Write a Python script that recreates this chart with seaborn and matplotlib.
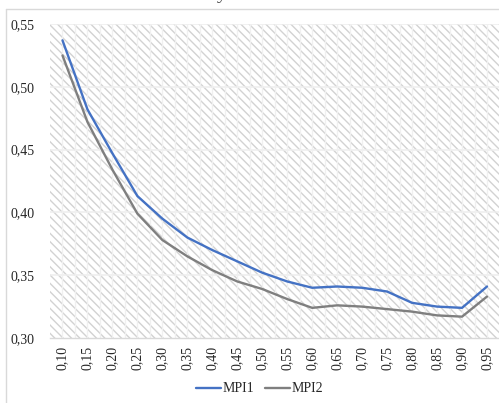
import matplotlib
matplotlib.use("Agg")
import matplotlib.pyplot as plt
from matplotlib.lines import Line2D
import seaborn as sns
import pandas as pd

# Threshold categories along the x axis
thresholds = ["0,10", "0,15", "0,20", "0,25", "0,30", "0,35", "0,40", "0,45", "0,50",
              "0,55", "0,60", "0,65", "0,70", "0,75", "0,80", "0,85", "0,90", "0,95"]

# Index values per threshold
mpi1 = [0.537, 0.482, 0.447, 0.413, 0.395, 0.380, 0.370, 0.361, 0.352,
        0.345, 0.340, 0.341, 0.340, 0.337, 0.328, 0.325, 0.324, 0.341]
mpi2 = [0.525, 0.472, 0.434, 0.399, 0.378, 0.365, 0.354, 0.345, 0.339,
        0.331, 0.324, 0.326, 0.325, 0.323, 0.321, 0.318, 0.317, 0.333]

series_names = ["MPI1", "MPI2"]
colors = ["#4472C4", "#7F7F7F"]
y_ticks = [0.30, 0.35, 0.40, 0.45, 0.50, 0.55]

df = pd.concat([
    pd.DataFrame({"threshold": thresholds, "value": mpi1, "series": series_names[0]}),
    pd.DataFrame({"threshold": thresholds, "value": mpi2, "series": series_names[1]}),
])

sns.set_theme(style="white")
plt.rcParams["font.family"] = ["Liberation Serif", "DejaVu Serif"]
plt.rcParams["hatch.color"] = "#d2d2d2"
plt.rcParams["hatch.linewidth"] = 1.0

fig = plt.figure(figsize=(4.99, 4.03), dpi=100)
ax = fig.add_axes([50 / 499, 65 / 403, 449.5 / 499, 314 / 403])

# hatched plot area
ax.patch.set_facecolor("white")
ax.patch.set_hatch("\\\\\\\\")
ax.patch.set_edgecolor("#d2d2d2")
ax.patch.set_linewidth(0)

sns.lineplot(data=df, x="threshold", y="value", hue="series", palette=colors,
             sort=False, linewidth=1.7, ax=ax, legend=False, zorder=3)

ax.set_xlim(-0.5, len(thresholds) - 0.5)
ax.set_ylim(0.30, 0.55)
ax.set_yticks(y_ticks)
ax.set_yticklabels([f"{v:.2f}".replace(".", ",") for v in y_ticks], fontsize=10)
ax.set_xticks(range(len(thresholds)))
ax.set_xticklabels(thresholds, rotation=90, fontsize=10)
ax.tick_params(axis="y", length=0, pad=11, colors="#262626")
ax.tick_params(axis="x", length=0, pad=6, colors="#262626")
ax.set_xlabel("")
ax.set_ylabel("")

# faint gridlines across the hatched area
for v in y_ticks[1:]:
    ax.axhline(v, color="#eeeeee", linewidth=1.1, zorder=1)
for k in range(len(thresholds)):
    ax.axvline(k, color="#f0f0f0", linewidth=1.0, zorder=1)
    ax.axvline(k + 0.5, color="#f0f0f0", linewidth=1.0, zorder=1)

for side in ["left", "right", "top"]:
    ax.spines[side].set_visible(False)
ax.spines["bottom"].set_color("#d9d9d9")
ax.spines["bottom"].set_linewidth(1.0)

# chart-area frame
fig.add_artist(Line2D([6 / 499, 6 / 499], [0, 1 - 9 / 403], transform=fig.transFigure,
                      color="#d9d9d9", linewidth=1.0))
fig.add_artist(Line2D([6 / 499, 1], [1 - 9 / 403, 1 - 9 / 403], transform=fig.transFigure,
                      color="#d9d9d9", linewidth=1.0))

# title line sitting above the frame
fig.text(222 / 499, 1 + 1 / 403, "y", fontsize=14, ha="center", va="baseline",
         color="#404040")

handles = [Line2D([], [], color=c, linewidth=1.7) for c in colors]
fig.legend(handles, series_names, loc="center", bbox_to_anchor=(259.5 / 499, 1 - 389 / 403),
           ncol=2, frameon=False, fontsize=10, handlelength=1.8, handletextpad=0.1,
           columnspacing=0.8)

fig.savefig("out.png", dpi=100)
